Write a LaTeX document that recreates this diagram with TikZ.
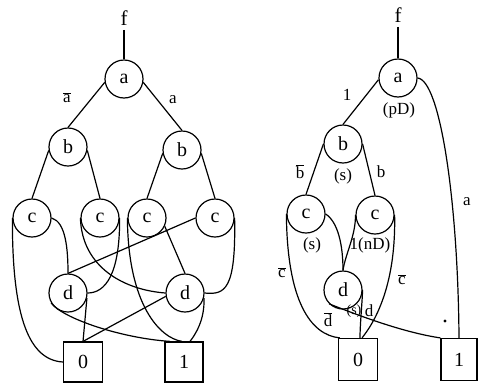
\documentclass[tikz,border=0pt]{standalone}
\usepackage{fontspec}
\setmainfont{Liberation Serif}
\usetikzlibrary{calc}
\newcommand{\ovl}[1]{$\overline{\mbox{#1}}$}
\begin{document}
\begin{tikzpicture}[x=1pt,y=-1pt,line width=1.2pt,
  vnode/.style={circle,draw,minimum size=38pt,inner sep=0pt,font=\fontsize{20}{22}\selectfont},
  leaf/.style={rectangle,draw,minimum width=39pt,minimum height=40pt,inner sep=0pt,font=\fontsize{20}{22}\selectfont},
  lbl/.style={inner sep=0pt,font=\fontsize{17}{19}\selectfont},
  big/.style={inner sep=0pt,font=\fontsize{21}{23}\selectfont},
  small/.style={inner sep=0pt,font=\fontsize{14}{16}\selectfont}]
\useasboundingbox (0,0) rectangle (478,383);
% ---------------- left diagram ----------------
\node[big] (fL) at (124,18) {f};
\node[vnode] (aL) at (124,79) {a};
\node[vnode] (bL1) at (68,147) {b};
\node[vnode] (bL2) at (182,150) {b};
\node[vnode] (cL1) at (32,218) {c};
\node[vnode] (cL2) at (100,218) {c};
\node[vnode] (cL3) at (147,218) {c};
\node[vnode] (cL4) at (215,218) {c};
\node[vnode] (dL1) at (68,293) {d};
\node[vnode] (dL2) at (185,293) {d};
\node[leaf] (zL) at (83,362) {0};
\node[leaf,minimum width=38pt] (oL) at (184,362) {1};
\node[lbl] (laL) at (67,98) {\ovl{a}};
\node[lbl] (lbL) at (173,100) {a};
\draw ($(fL.south)+(0,4)$) -- (aL.north);
\draw (aL.190) -- (bL1.north);
\draw (aL.350) -- (bL2.north);
\draw (bL1.190) -- (cL1.north);
\draw (bL1.350) -- (cL2.north);
\draw (bL2.190) -- (cL3.north);
\draw (bL2.350) -- (cL4.north);
\draw (cL1.west) .. controls (12,320) and (30,360) .. (zL.west);
\draw (cL1.east) .. controls (66,222) and (68,250) .. (dL1.north);
\draw (cL2.west) .. controls (82,268) and (125,290) .. (dL2.west);
\draw (cL2.east) .. controls (120,275) and (105,293) .. (dL1.east);
\draw (cL3.west) .. controls (128,305) and (160,338) .. ($(oL.north)+(-2,0)$);
\draw (cL3.335) -- (dL2.north);
\draw (cL4.west) -- (dL1.north);
\draw (cL4.east) .. controls (236,290) and (225,295) .. (dL2.east);
\draw (dL1.345) -- (zL.north);
\draw (dL2.190) -- (zL.north);
\draw (dL1.210) .. controls (62,318) and (120,338) .. ($(oL.north)+(-14,0)$);
\draw (dL2.345) .. controls (205,320) and (195,335) .. ($(oL.north)+(6,0)$);
% ---------------- right diagram ----------------
\node[big] (fR) at (398,15) {f};
\node[vnode] (aR) at (398,78) {a};
\node[vnode] (bR) at (343,144) {b};
\node[vnode] (cR1) at (306,214) {c};
\node[vnode] (cR2) at (375,215) {c};
\node[vnode] (dR) at (343,290) {d};
\node[leaf,minimum height=42pt] (zR) at (358,359.5) {0};
\node[leaf,minimum width=36pt,minimum height=42pt] (oR) at (459,359.5) {1};
\node[lbl] (lpD) at (399,110) {(pD)};
\node[lbl] (l1) at (347,95) {1};
\node[lbl] (ls1) at (343,176) {(s)};
\node[lbl] (lbb) at (300,172) {\ovl{b}};
\node[lbl] (lb) at (381,172) {b};
\node[lbl] (ls2) at (312,245) {(s)};
\node[lbl] (lnD) at (370,245) {1(nD)};
\node[lbl] (lc1) at (282,273) {\ovl{c}};
\node[lbl] (lc2) at (402,280) {\ovl{c}};
\node[lbl] (ldb) at (328,320) {\ovl{d}};
\node[small] (ls3) at (354,311) {(s)};
\node[lbl] (ld) at (369,311) {d};
\node[lbl] (la) at (467,202) {a};
\fill (445,321) circle (1.6);
\draw ($(fR.south)+(0,4)$) -- (aR.north);
\draw (aR.185) -- (bR.north);
\draw (aR.east) .. controls (440,80) and (458,200) .. (oR.north);
\draw (bR.west) -- (cR1.north);
\draw (bR.east) -- (cR2.north);
\draw (cR1.west) .. controls (287,300) and (310,335) .. ($(zR.north west)+(2,0)$);
\draw (cR1.east) .. controls (338,222) and (343,245) .. (dR.north);
\draw (cR2.west) .. controls (356,235) and (345,255) .. (dR.north);
\draw (cR2.east) .. controls (396,280) and (378,318) .. ($(zR.north)+(4,0)$);
\draw (dR.east) .. controls (362,305) and (360,325) .. ($(zR.north)+(2,0)$);
\draw (dR.225) .. controls (350,312) and (400,332) .. (oR.north west);
\end{tikzpicture}
\end{document}
